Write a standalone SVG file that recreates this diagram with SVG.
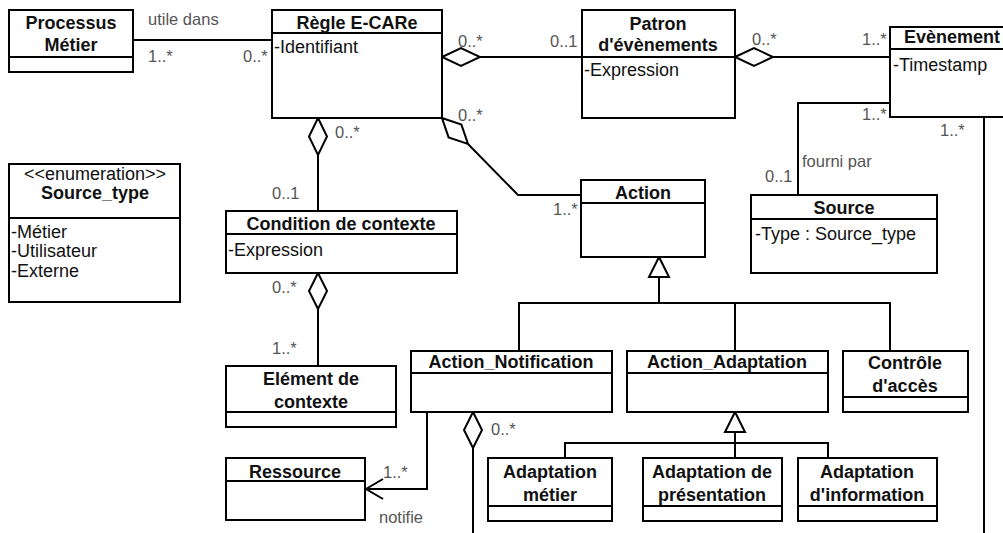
<svg xmlns="http://www.w3.org/2000/svg" width="1003" height="533" viewBox="0 0 1003 533">
<style>
.box{fill:#fff;stroke:#000;stroke-width:2}
.ln{fill:none;stroke:#000;stroke-width:2}
.dia{fill:#fff;stroke:#000;stroke-width:2}
.t{font-family:"Liberation Sans",Arial,sans-serif;font-size:18px;font-weight:bold;fill:#111;text-anchor:middle}
.a{font-family:"Liberation Sans",Arial,sans-serif;font-size:18px;fill:#111}
.m{font-family:"Liberation Sans",Arial,sans-serif;font-size:16.5px;fill:#555}
</style>
<rect width="1003" height="533" fill="#fff"/>
<g id="connectors">
  <line class="ln" x1="133" y1="40" x2="272" y2="40"/>
  <line class="ln" x1="480" y1="57" x2="582" y2="57"/>
  <polygon class="dia" points="442,57 461,48 480,57 461,66"/>
  <line class="ln" x1="773" y1="57" x2="890" y2="57"/>
  <polygon class="dia" points="735,57 754,48 773,57 754,66"/>
  <polyline class="ln" points="890,103 798,103 798,195"/>
  <line class="ln" x1="984" y1="117" x2="984" y2="540"/>
  <line class="ln" x1="318" y1="155" x2="318" y2="211"/>
  <polygon class="dia" points="318,118 327,136.5 318,155 309,136.5"/>
  <line class="ln" x1="318" y1="309" x2="318" y2="366"/>
  <polygon class="dia" points="318,273 327,291 318,309 309,291"/>
  <polyline class="ln" points="468,144 518,195 581,195"/>
  <polygon class="dia" points="442,118 461.4,124.6 468,144 448.6,137.4"/>
  <polyline class="ln" points="519,351 519,303 890,303 890,351"/>
  <polyline class="ln" points="659,277 659,303 735,303 735,351"/>
  <polygon class="dia" points="659,257 669,277 649,277"/>
  <polyline class="ln" points="565,458 565,443 828,443 828,458"/>
  <line class="ln" x1="735" y1="432" x2="735" y2="458"/>
  <polygon class="dia" points="735,412 745,432 725,432"/>
  <line class="ln" x1="473" y1="448" x2="473" y2="540"/>
  <polygon class="dia" points="473,412 482,430 473,448 464,430"/>
  <polyline class="ln" points="427,412 427,489 365,489"/>
  <polyline class="ln" points="383,479 366,489 383,499"/>
</g>
<g id="labels">
  <text class="m" x="148" y="25">utile dans</text>
  <text class="m" x="148" y="62">1..*</text>
  <text class="m" x="243" y="62">0..*</text>
  <text class="m" x="458" y="47">0..*</text>
  <text class="m" x="550" y="47">0..1</text>
  <text class="m" x="752" y="45">0..*</text>
  <text class="m" x="862" y="45">1..*</text>
  <text class="m" x="862" y="120">1..*</text>
  <text class="m" x="940" y="136">1..*</text>
  <text class="m" x="802" y="167">fourni par</text>
  <text class="m" x="765" y="182">0..1</text>
  <text class="m" x="335" y="138">0..*</text>
  <text class="m" x="272" y="199">0..1</text>
  <text class="m" x="458" y="121">0..*</text>
  <text class="m" x="553" y="215">1..*</text>
  <text class="m" x="272" y="293">0..*</text>
  <text class="m" x="272" y="354">1..*</text>
  <text class="m" x="491" y="435">0..*</text>
  <text class="m" x="383" y="478">1..*</text>
  <text class="m" x="379" y="523">notifie</text>
</g>
<g id="processus">
  <rect class="box" x="9" y="10" width="124" height="62"/>
  <line class="ln" x1="9" y1="57" x2="133" y2="57"/>
  <text class="t" x="71" y="29">Processus</text>
  <text class="t" x="71" y="51">Métier</text>
</g>
<g id="regle">
  <rect class="box" x="272" y="10" width="170" height="108"/>
  <line class="ln" x1="272" y1="33" x2="442" y2="33"/>
  <text class="t" x="357" y="29">Règle E-CARe</text>
  <text class="a" x="274" y="53">-Identifiant</text>
</g>
<g id="patron">
  <rect class="box" x="582" y="10" width="153" height="108"/>
  <line class="ln" x1="582" y1="57" x2="735" y2="57"/>
  <text class="t" x="658" y="30">Patron</text>
  <text class="t" x="658" y="51">d'évènements</text>
  <text class="a" x="584" y="76">-Expression</text>
</g>
<g id="evenement">
  <rect class="box" x="890" y="27" width="130" height="90"/>
  <line class="ln" x1="890" y1="49" x2="1020" y2="49"/>
  <text class="t" x="952" y="43">Evènement</text>
  <text class="a" x="893" y="71">-Timestamp</text>
</g>
<g id="source_type">
  <rect class="box" x="9" y="164" width="171" height="138"/>
  <line class="ln" x1="9" y1="218" x2="180" y2="218"/>
  <text class="a" x="95" y="180" text-anchor="middle">&lt;&lt;enumeration&gt;&gt;</text>
  <text class="t" x="95" y="199">Source_type</text>
  <text class="a" x="11" y="238">-Métier</text>
  <text class="a" x="11" y="257">-Utilisateur</text>
  <text class="a" x="11" y="277">-Externe</text>
</g>
<g id="condition">
  <rect class="box" x="226" y="211" width="231" height="62"/>
  <line class="ln" x1="226" y1="234" x2="457" y2="234"/>
  <text class="t" x="341" y="230">Condition de contexte</text>
  <text class="a" x="228" y="256">-Expression</text>
</g>
<g id="element">
  <rect class="box" x="226" y="366" width="170" height="61"/>
  <line class="ln" x1="226" y1="412" x2="396" y2="412"/>
  <text class="t" x="311" y="385">Elément de</text>
  <text class="t" x="311" y="408">contexte</text>
</g>
<g id="action">
  <rect class="box" x="581" y="180" width="124" height="77"/>
  <line class="ln" x1="581" y1="203" x2="705" y2="203"/>
  <text class="t" x="643" y="199">Action</text>
</g>
<g id="source">
  <rect class="box" x="751" y="195" width="186" height="78"/>
  <line class="ln" x1="751" y1="219" x2="937" y2="219"/>
  <text class="t" x="844" y="214">Source</text>
  <text class="a" x="755" y="240">-Type : Source_type</text>
</g>
<g id="action_notification">
  <rect class="box" x="411" y="351" width="201" height="61"/>
  <line class="ln" x1="411" y1="373" x2="612" y2="373"/>
  <text class="t" x="511" y="368">Action_Notification</text>
</g>
<g id="action_adaptation">
  <rect class="box" x="627" y="351" width="201" height="61"/>
  <line class="ln" x1="627" y1="373" x2="828" y2="373"/>
  <text class="t" x="727" y="368">Action_Adaptation</text>
</g>
<g id="controle">
  <rect class="box" x="843" y="351" width="125" height="61"/>
  <line class="ln" x1="843" y1="397" x2="968" y2="397"/>
  <text class="t" x="905" y="369">Contrôle</text>
  <text class="t" x="905" y="392">d'accès</text>
</g>
<g id="ressource">
  <rect class="box" x="226" y="458" width="139" height="62"/>
  <line class="ln" x1="226" y1="481" x2="365" y2="481"/>
  <text class="t" x="295" y="478">Ressource</text>
</g>
<g id="adaptation_metier">
  <rect class="box" x="488" y="458" width="124" height="63"/>
  <line class="ln" x1="488" y1="506" x2="612" y2="506"/>
  <text class="t" x="550" y="478">Adaptation</text>
  <text class="t" x="550" y="501">métier</text>
</g>
<g id="adaptation_presentation">
  <rect class="box" x="643" y="458" width="139" height="63"/>
  <line class="ln" x1="643" y1="506" x2="782" y2="506"/>
  <text class="t" x="712" y="478">Adaptation de</text>
  <text class="t" x="712" y="501">présentation</text>
</g>
<g id="adaptation_information">
  <rect class="box" x="798" y="458" width="139" height="63"/>
  <line class="ln" x1="798" y1="506" x2="937" y2="506"/>
  <text class="t" x="867" y="478">Adaptation</text>
  <text class="t" x="867" y="501">d'information</text>
</g>
</svg>
